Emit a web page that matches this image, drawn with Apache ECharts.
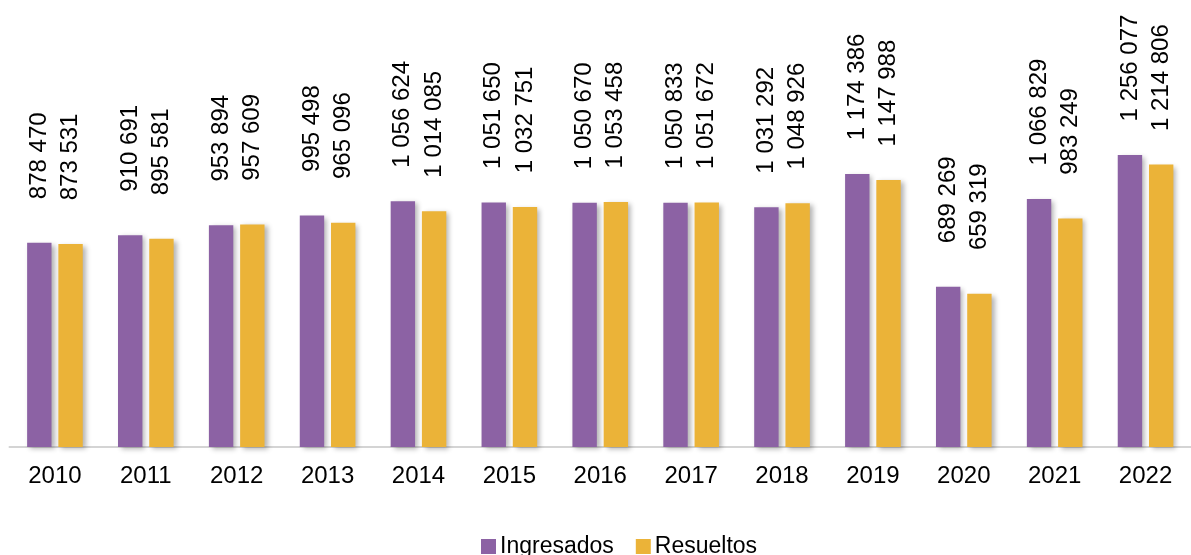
<!DOCTYPE html>
<html>
<head>
<meta charset="utf-8">
<script src="https://cdn.jsdelivr.net/npm/echarts@6/dist/echarts.min.js"></script>
<style>
    html, body { margin: 0; padding: 0; background: #fff; }
    #chart { width: 1191px; height: 555px; }
</style>
</head>
<body>
<div id="chart"></div>
<script>
// años
const years = ['2010', '2011', '2012', '2013', '2014', '2015', '2016', '2017', '2018', '2019', '2020', '2021', '2022'];
// asuntos ingresados
const ingresados = [878470, 910691, 953894, 995498, 1056624, 1051650, 1050670, 1050833, 1031292, 1174386, 689269, 1066829, 1256077];
// asuntos resueltos
const resueltos = [873531, 895581, 957609, 965096, 1014085, 1032751, 1053458, 1051672, 1048926, 1147988, 659319, 983249, 1214806];

const fontFamily = '"Liberation Sans", Arial, sans-serif';

// 1256077 -> "1 256 077"
function fmt(v) {
    return String(v).replace(/\B(?=(\d{3})+(?!\d))/g, ' ');
}

function barSeries(name, data, color) {
    return {
        name: name,
        type: 'bar',
        data: data,
        barWidth: 24.4,
        barGap: '28%',
        itemStyle: {
            color: color,
            shadowColor: 'rgba(0,0,0,0.3)',
            shadowBlur: 5,
            shadowOffsetX: 3,
            shadowOffsetY: 2
        },
        label: {
            show: true,
            position: 'top',
            distance: 87,
            rotate: 90,
            align: 'center',
            verticalAlign: 'middle',
            color: '#000',
            fontSize: 24,
            fontFamily: fontFamily,
            formatter: p => fmt(p.value)
        }
    };
}

const chart = echarts.init(document.getElementById('chart'));
chart.setOption({
    animation: false,
    grid: {
        left: 9.5,
        width: 1197,
        top: 5.3,
        bottom: 108
    },
    legend: {
        data: ['Ingresados', 'Resueltos'],
        left: 476,
        top: 530,
        icon: 'rect',
        itemWidth: 15,
        itemHeight: 15,
        itemGap: 22,
        textStyle: { color: '#000', fontSize: 23, fontFamily: fontFamily, padding: [0, 0, 0, -1] }
    },
    xAxis: {
        type: 'category',
        data: years,
        axisLine: { lineStyle: { color: '#d4d4d4', width: 2 } },
        axisTick: { show: false },
        axisLabel: { color: '#000', fontSize: 24, fontFamily: fontFamily, margin: 17 }
    },
    yAxis: {
        type: 'value',
        min: 0,
        max: 1900000,
        show: false,
        splitLine: { show: false }
    },
    series: [
        barSeries('Ingresados', ingresados, '#8c62a4'),
        barSeries('Resueltos', resueltos, '#ebb338')
    ]
});
</script>
</body>
</html>
